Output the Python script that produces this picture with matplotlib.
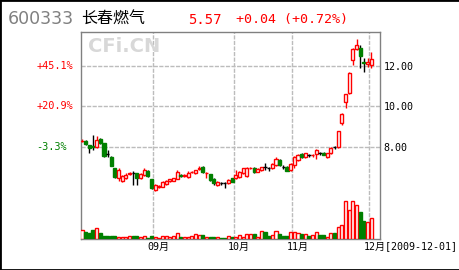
import matplotlib
matplotlib.use("Agg")
import matplotlib.pyplot as plt
from matplotlib.patches import Rectangle
from matplotlib.transforms import offset_copy

# daily candles, 2009-08 .. 2009-12-01
opens = [8.28, 8.30, 8.08, 8.05, 7.98, 8.40, 8.18, 7.65, 7.50, 6.95,
         6.45, 6.30, 6.45, 6.68, 6.70, 6.70, 6.45, 6.60, 6.83, 6.40,
         5.88, 6.00, 6.04, 6.16, 6.30, 6.34, 6.42, 6.62, 6.58, 6.50,
         6.74, 6.70, 6.93, 7.03, 6.70, 6.65, 6.42, 6.12, 6.24, 6.22,
         6.20, 6.45, 6.45, 6.50, 6.70, 6.58, 6.94, 6.98, 6.78, 6.85,
         7.03, 6.95, 6.95, 7.11, 7.36, 7.03, 7.03, 6.86, 7.11, 7.35,
         7.64, 7.49, 7.58, 7.58, 7.65, 7.69, 7.72, 7.49, 7.69, 7.98,
         7.98, 9.20, 10.19, 10.65, 12.30, 12.84, 12.87, 12.18, 12.08, 12.05]
highs = [8.38, 8.33, 8.10, 8.60, 8.55, 8.45, 8.20, 7.85, 7.55, 6.98,
         6.95, 6.60, 6.70, 6.78, 6.80, 6.72, 6.70, 6.95, 6.85, 6.42,
         6.17, 6.12, 6.30, 6.36, 6.42, 6.47, 6.88, 6.65, 6.65, 6.80,
         6.80, 6.88, 7.05, 7.08, 6.75, 6.68, 6.45, 6.32, 6.28, 6.25,
         6.40, 6.48, 6.86, 6.80, 6.98, 7.00, 7.00, 7.00, 6.95, 7.02,
         7.20, 7.00, 7.18, 7.50, 7.40, 7.12, 7.06, 7.18, 7.55, 7.65,
         7.68, 7.72, 7.65, 7.66, 7.90, 7.75, 7.76, 7.72, 8.00, 8.05,
         8.78, 9.68, 10.62, 11.68, 12.86, 13.32, 13.04, 12.38, 12.40, 12.66]
lows = [8.22, 8.10, 7.70, 7.85, 7.95, 8.15, 7.50, 7.50, 7.05, 6.45,
        6.30, 6.25, 6.40, 6.60, 6.10, 6.12, 6.40, 6.55, 6.50, 5.92,
        5.84, 5.98, 6.00, 6.12, 6.28, 6.30, 6.40, 6.52, 6.50, 6.48,
        6.70, 6.68, 6.88, 6.72, 6.45, 6.30, 6.10, 6.08, 6.10, 5.98,
        6.15, 6.26, 6.40, 6.45, 6.65, 6.50, 6.90, 6.70, 6.75, 6.82,
        6.85, 6.80, 6.92, 7.08, 7.08, 6.90, 6.80, 6.82, 6.95, 7.30,
        7.45, 7.45, 7.50, 7.52, 7.40, 7.60, 7.58, 7.45, 7.65, 7.90,
        7.95, 9.08, 9.91, 10.60, 12.05, 12.80, 11.89, 11.67, 11.95, 11.89]
closes = [8.30, 8.15, 7.92, 7.98, 8.35, 8.20, 7.55, 7.65, 7.08, 6.50,
          6.88, 6.55, 6.62, 6.70, 6.70, 6.45, 6.68, 6.85, 6.55, 5.96,
          6.10, 6.08, 6.29, 6.34, 6.40, 6.45, 6.77, 6.55, 6.60, 6.70,
          6.76, 6.86, 6.95, 6.75, 6.72, 6.37, 6.20, 6.29, 6.24, 6.22,
          6.37, 6.29, 6.62, 6.78, 6.95, 6.98, 6.96, 6.78, 6.93, 7.00,
          7.03, 6.95, 7.15, 7.41, 7.11, 7.03, 6.83, 7.15, 7.52, 7.60,
          7.48, 7.69, 7.58, 7.60, 7.85, 7.69, 7.60, 7.69, 7.94, 7.98,
          8.76, 9.63, 10.60, 11.65, 12.84, 13.04, 12.46, 12.13, 12.21, 12.35]
volumes = [93, 70, 67, 93, 110, 60, 37, 33, 33, 33,
           27, 20, 27, 37, 33, 33, 20, 33, 17, 33,
           20, 13, 33, 33, 27, 33, 67, 27, 27, 27,
           33, 53, 43, 43, 27, 27, 20, 20, 10, 10,
           33, 20, 27, 43, 27, 53, 53, 53, 27, 87,
           70, 33, 43, 87, 53, 33, 33, 77, 70, 60,
           53, 53, 33, 43, 77, 43, 43, 27, 60, 60,
           127, 143, 383, 293, 383, 343, 267, 177, 167, 210]

month_starts = [20, 42, 58, 79]
month_labels = ["09月", "10月", "11月", "12月[2009-12-01]"]
price_ticks = [8, 10, 12]
pct_labels = ["-3.3%", "+20.9%", "+45.1%"]

RED = "#ff0000"
GREEN = "#008000"
W, H = 460, 270

fig = plt.figure(figsize=(W / 100, H / 100), dpi=100)
fig.patch.set_facecolor("white")
ax = fig.add_axes([80.7 / W, (H - 239.3) / H, (380 - 80.7) / W, (239.3 - 31.7) / H])
vax = fig.add_axes([80.7 / W, (H - 239.3) / H, (380 - 80.7) / W, 40.5 / H])

n = len(closes)
xs = list(range(n))
ax.set_xlim(-0.35, 81.4)
vax.set_xlim(-0.35, 81.4)
ax.set_ylim(3.44, 13.68)
vax.set_ylim(0, max(volumes) * 1.05)

# grid
grid_kw = dict(color="#bcbcbc", lw=1, linestyle=(0, (3, 1)), zorder=0)
for p in price_ticks:
    ax.axhline(p, **grid_kw)
for m in month_starts:
    ax.axvline(m - 0.5, **grid_kw)

bw = 0.85
for i in xs:
    o, h, l, c = opens[i], highs[i], lows[i], closes[i]
    if c > o:
        ax.vlines(i, l, h, color=RED, lw=1, zorder=2)
        ax.bar(i, c - o, bottom=o, width=bw, facecolor="white",
               edgecolor=RED, lw=1, zorder=3)
    elif c < o:
        ax.vlines(i, l, h, color="black", lw=1, zorder=2)
        ax.bar(i, o - c, bottom=c, width=bw, facecolor=GREEN,
               edgecolor=GREEN, lw=1, zorder=3)
    else:
        ax.vlines(i, l, h, color="black", lw=1, zorder=2)
        ax.hlines(c, i - bw / 2, i + bw / 2, color="black", lw=1, zorder=3)

    if c > o:
        vax.bar(i, volumes[i], width=bw, facecolor="white", edgecolor=RED, lw=1)
    else:
        vax.bar(i, volumes[i], width=bw, facecolor=GREEN, edgecolor=GREEN, lw=1)

vax.set_axis_off()
vax.patch.set_visible(False)

for s in ax.spines.values():
    s.set_color("#808080")
    s.set_linewidth(1)
ax.set_xticks([])
ax.yaxis.tick_right()
ax.set_yticks(price_ticks)
ax.set_yticklabels([f"{p:.2f}" for p in price_ticks], family="DejaVu Sans Mono",
                   fontsize=7.2, color="black")
ax.tick_params(axis="y", length=0, pad=2.4)

# left percentage labels
for p, lab in zip(price_ticks, pct_labels):
    ax.text(-0.148, p, lab, transform=ax.get_yaxis_transform(), ha="left", va="center",
            family="DejaVu Sans Mono", fontsize=7.4,
            color=GREEN if lab.startswith("-") else RED)

# month labels
tr = offset_copy(ax.get_xaxis_transform(), fig=fig, x=-6, y=0, units="dots")
for m, lab in zip(month_starts, month_labels):
    ax.text(m - 0.5, -0.035, lab, transform=tr, ha="left", va="center",
            family=["DejaVu Sans Mono", "Noto Sans CJK SC"], fontsize=7.2, color="black")

# header
fig.text(8 / W, 1 - 19.5 / H, "600333", family="DejaVu Sans", fontsize=12.5,
         color="#808080", va="center", ha="left")
fig.text(81 / W, 1 - 19 / H, "长春燃气", family="Noto Sans CJK SC", fontsize=11.5,
         color="black", va="center", ha="left")
fig.text(188 / W, 1 - 19.5 / H, "5.57", family="DejaVu Sans Mono", fontsize=10,
         color=RED, va="center", ha="left")
fig.text(236 / W, 1 - 19.5 / H, "+0.04 (+0.72%)", family="DejaVu Sans Mono", fontsize=9.6,
         color=RED, va="center", ha="left")

# watermark
fig.text(88 / W, 1 - 47 / H, "CFi.CN", family="DejaVu Sans", fontweight="bold",
         fontsize=14, color="#d8d8d8", va="center", ha="left", zorder=0)

fig.patches.append(Rectangle((0, 0), 1, 1, transform=fig.transFigure, fill=False,
                             edgecolor="black", lw=2))

fig.savefig("out.png", dpi=100)
